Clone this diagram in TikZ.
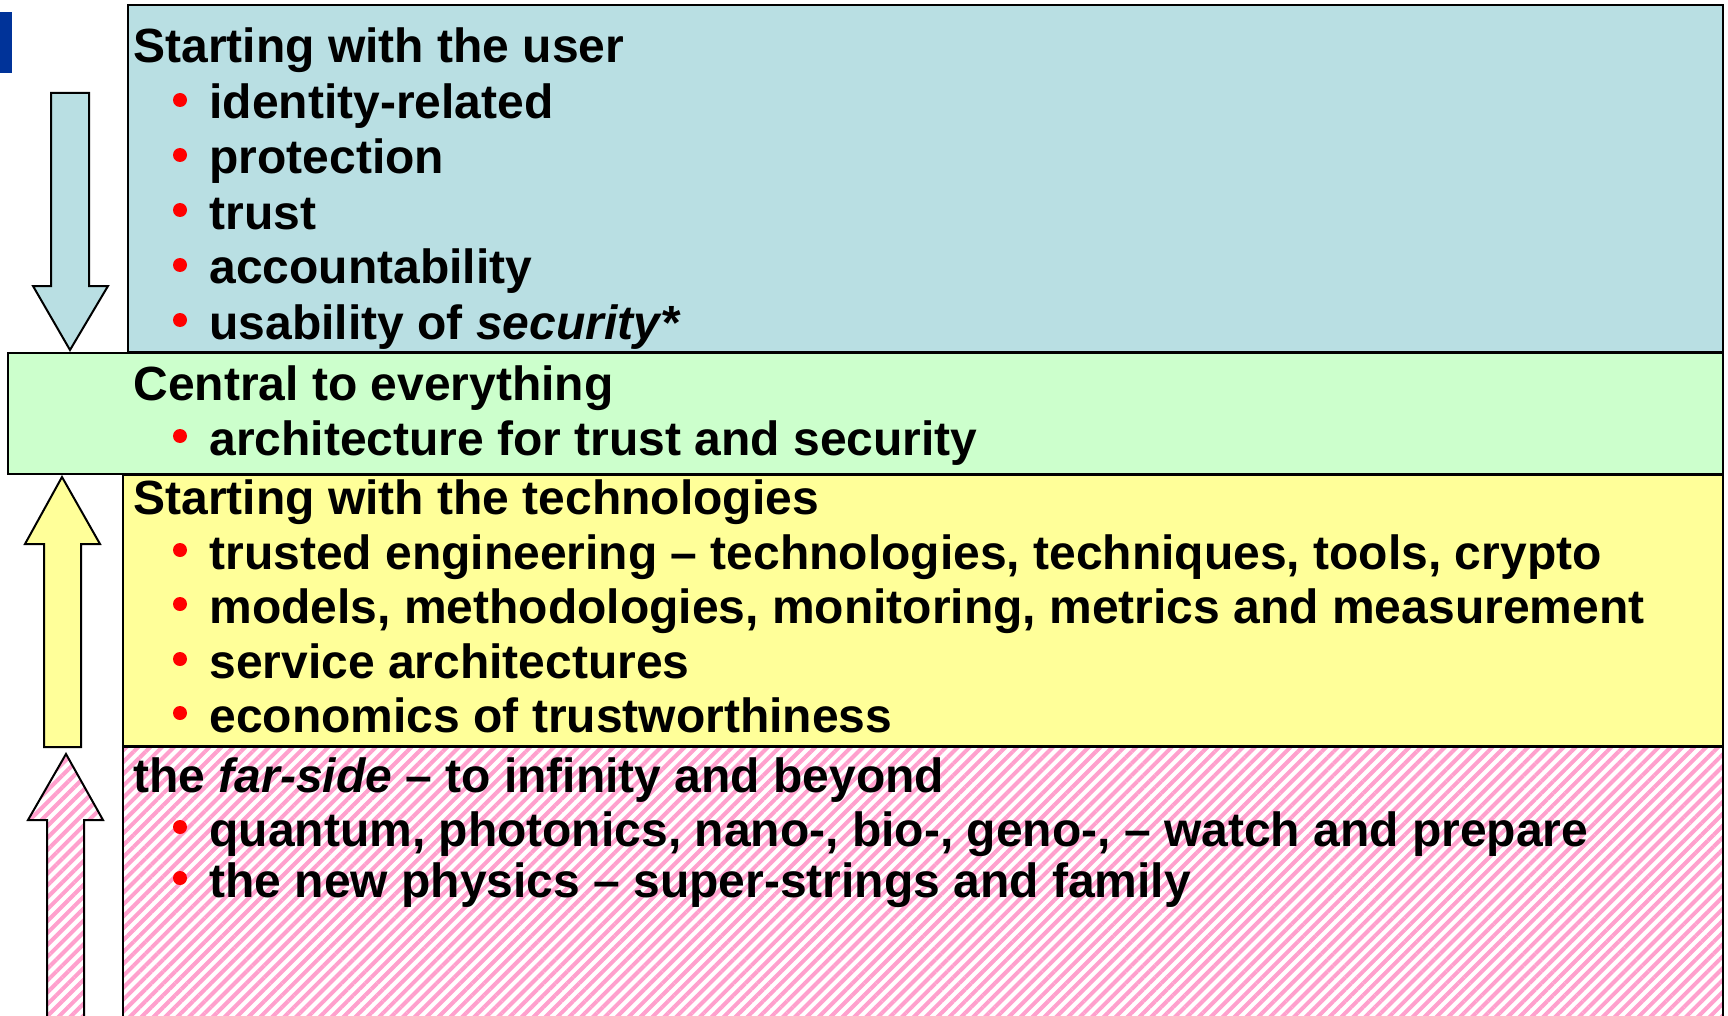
\documentclass[tikz,border=0pt]{standalone}
\usepackage{fontspec}
\setmainfont{Liberation Sans}
\usetikzlibrary{patterns.meta}
\definecolor{bluebox}{RGB}{185,223,227}
\definecolor{greenbox}{RGB}{204,255,204}
\definecolor{yellowbox}{RGB}{255,255,153}
\definecolor{pinkhatch}{RGB}{255,160,205}
\definecolor{markblue}{RGB}{0,51,153}
\begin{document}
\begin{tikzpicture}[x=0.5pt,y=-0.5pt,
  box/.style={draw=black, line width=1pt},
  hatch/.style={pattern={Lines[angle=45,distance=4.2pt,line width=2pt]}, pattern color=pinkhatch},
  txt/.style={anchor=base west, inner sep=0pt, font=\fontsize{24}{28}\selectfont\bfseries},
  dot/.style={fill=red, draw=none, circle, minimum size=7pt, inner sep=0pt}]
\useasboundingbox (0,0) rectangle (1728,1016);
% corner mark
\fill[markblue] (0,12) rectangle (12,73);
% boxes
\draw[box, fill=bluebox] (128,5) rectangle (1723,352);
\draw[box, fill=greenbox] (8,353) rectangle (1723,474);
\draw[box, fill=yellowbox] (123,475) rectangle (1723,746);
\fill[white] (123,747) rectangle (1723,1016);
\fill[hatch] (123,747) rectangle (1723,1016);
\draw[box] (123,1016) -- (123,747) -- (1723,747) -- (1723,1016);
% arrows
\draw[box, fill=bluebox] (51,93) -- (89,93) -- (89,286) -- (108,286) -- (70,350) -- (33,286) -- (51,286) -- cycle;
\draw[box, fill=yellowbox] (62,477) -- (100,544) -- (81,544) -- (81,747) -- (44,747) -- (44,544) -- (25,544) -- cycle;
\fill[white] (47,1016) -- (47,820) -- (28,820) -- (66,754) -- (103,820) -- (84,820) -- (84,1016) -- cycle;
\fill[hatch] (47,1016) -- (47,820) -- (28,820) -- (66,754) -- (103,820) -- (84,820) -- (84,1016) -- cycle;
\draw[box] (47,1016) -- (47,820) -- (28,820) -- (66,754) -- (103,820) -- (84,820) -- (84,1016);
% texts: blue
\node[txt] (t1) at (133,63) {Starting with the user};
\node[dot] (d11) at (180,100) {}; \node[txt] (b11) at (209,119) {identity-related};
\node[dot] (d12) at (180,155) {}; \node[txt] (b12) at (209,174) {protection};
\node[dot] (d13) at (180,210) {}; \node[txt] (b13) at (209,229) {trust};
\node[dot] (d14) at (180,265) {}; \node[txt] (b14) at (209,284) {accountability};
\node[dot] (d15) at (180,320) {}; \node[txt] (b15) at (209,339) {usability of \textit{security*}};
% green
\node[txt] (t2) at (133,400) {Central to everything};
\node[dot] (d21) at (180,436) {}; \node[txt] (b21) at (209,455) {architecture for trust and security};
% yellow
\node[txt] (t3) at (133,514) {Starting with the technologies};
\node[dot] (d31) at (180,550) {}; \node[txt] (b31) at (209,569) {trusted engineering -- technologies, techniques, tools, crypto};
\node[dot] (d32) at (180,604) {}; \node[txt] (b32) at (209,623) {models, methodologies, monitoring, metrics and measurement};
\node[dot] (d33) at (180,659) {}; \node[txt] (b33) at (209,678) {service architectures};
\node[dot] (d34) at (180,713) {}; \node[txt] (b34) at (209,732) {economics of trustworthiness};
% pink
\node[txt] (t4) at (133,792) {the \textit{far-side} -- to infinity and beyond};
\node[dot] (d41) at (180,827) {}; \node[txt] (b41) at (209,846) {quantum, photonics, nano-, bio-, geno-, -- watch and prepare};
\node[dot] (d42) at (180,878) {}; \node[txt] (b42) at (209,897) {the new physics -- super-strings and family};
\end{tikzpicture}
\end{document}
